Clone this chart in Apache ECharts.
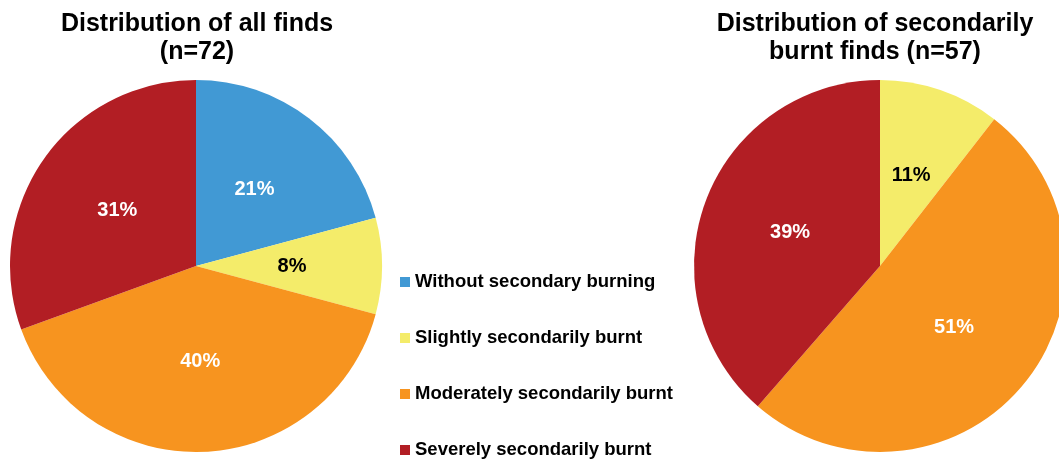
<!DOCTYPE html>
<html><head><meta charset="utf-8">
<script src="https://cdn.jsdelivr.net/npm/echarts@6/dist/echarts.min.js"></script>
<style>html,body{margin:0;padding:0;background:#fff}#c{width:1059px;height:461px}</style>
</head><body><div id="c"></div>
<script>
const categories = ['Without secondary burning','Slightly secondarily burnt','Moderately secondarily burnt','Severely secondarily burnt'];
const colors = ['#4199D4','#F4EC6A','#F7941F','#B21E24'];
const allFinds = [15, 6, 29, 22];          // n=72
const burntCategories = ['Slightly secondarily burnt','Moderately secondarily burnt','Severely secondarily burnt'];
const burntFinds = [6, 29, 22];            // n=57
const titleLeft = 'Distribution of all finds\n(n=72)';
const titleRight = 'Distribution of secondarily\nburnt finds (n=57)';

const FONT = 'Liberation Sans, Arial, sans-serif';
function mkData(names, vals){
  return names.map((n,i)=>{
    const ci = categories.indexOf(n);
    return {name:n, value:vals[i], itemStyle:{color:colors[ci]},
      label:{color: ci===1 ? '#000' : '#fff'}};
  });
}
function pct(p){ return Math.round(p.percent) + '%'; }
const chart = echarts.init(document.getElementById('c'));
const labelCfg = {show:true, position:'inside', formatter:pct, fontFamily:FONT, fontSize:20, fontWeight:'bold'};
chart.setOption({
  animation:false,
  title:[
    {text:titleLeft, left:192, top:5, textAlign:'center',
     textStyle:{fontFamily:FONT, fontSize:25, fontWeight:'bold', color:'#000', lineHeight:28}},
    {text:titleRight, left:870, top:5, textAlign:'center',
     textStyle:{fontFamily:FONT, fontSize:25, fontWeight:'bold', color:'#000', lineHeight:28}}
  ],
  legend:{
    orient:'vertical', left:395, top:267, height:220, itemWidth:10, itemHeight:10, itemGap:36,
    icon:'rect', selectedMode:false,
    data:categories.map((n,i)=>({name:n, itemStyle:{color:colors[i]}})),
    textStyle:{fontFamily:FONT, fontSize:18.5, fontWeight:'bold', color:'#000', lineHeight:20}
  },
  series:[
    {type:'pie', center:[196,266], radius:186, startAngle:90, clockwise:true,
     silent:true, label:labelCfg, labelLine:{show:false},
     itemStyle:{borderWidth:0}, emphasis:{disabled:true},
     data:mkData(categories, allFinds)},
    {type:'pie', center:[880,266], radius:186, startAngle:90, clockwise:true,
     silent:true, label:labelCfg, labelLine:{show:false},
     itemStyle:{borderWidth:0}, emphasis:{disabled:true},
     data:mkData(burntCategories, burntFinds)}
  ]
});
</script></body></html>
